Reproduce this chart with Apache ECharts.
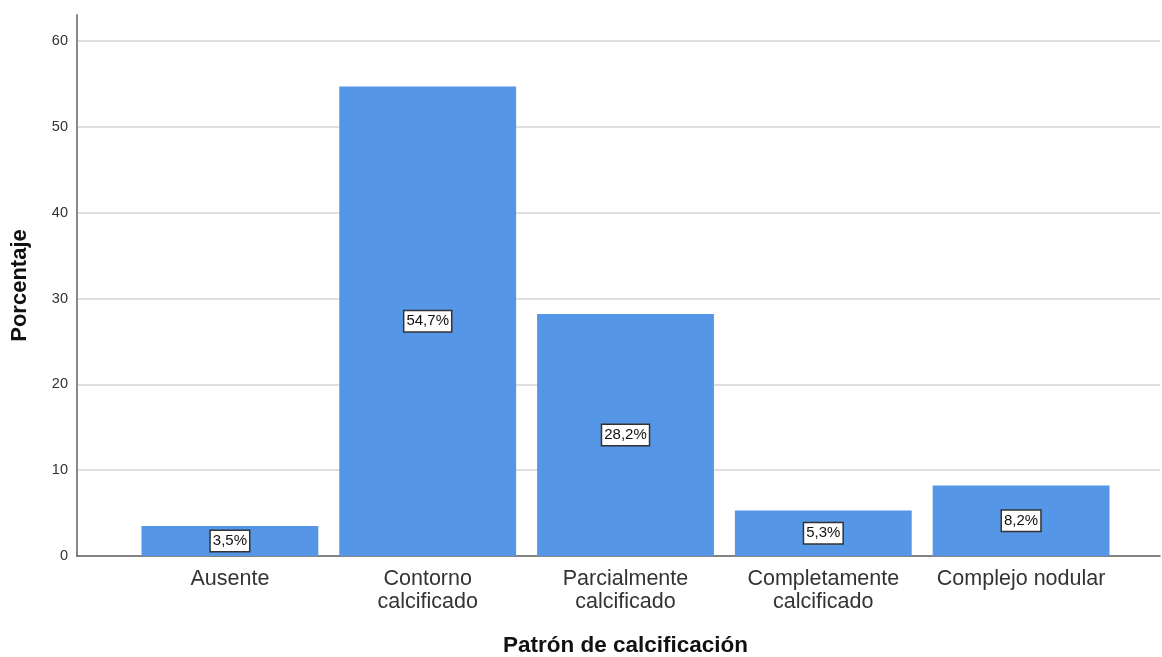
<!DOCTYPE html>
<html>
<head>
<meta charset="utf-8">
<script src="https://cdn.jsdelivr.net/npm/echarts@6/dist/echarts.min.js"></script>
<style>
  html, body { margin: 0; padding: 0; background: #fff; }
  #chart { width: 1162px; height: 657px; }
</style>
</head>
<body>
<div id="chart"></div>
<script>
// Calcification pattern categories and their percentages
const categories = ['Ausente', 'Contorno\ncalcificado', 'Parcialmente\ncalcificado', 'Completamente\ncalcificado', 'Complejo nodular'];
const percentages = [3.5, 54.7, 28.2, 5.3, 8.2];
const yTicks = { min: 0, max: 60, interval: 10 };
const xTitle = 'Patrón de calcificación';
const yTitle = 'Porcentaje';

const FONT = '"Liberation Sans", Arial, sans-serif';
const chart = echarts.init(document.getElementById('chart'), null, { renderer: 'canvas' });

chart.setOption({
  animation: false,
  textStyle: { fontFamily: FONT },
  grid: [
    // frame grid: gridlines, tick labels, bottom axis line
    { left: 77, right: 2, top: 41, bottom: 101, outerBoundsMode: 'none', containLabel: false },
    // bar grid: inset category band
    { left: 131, right: 42, top: 41, bottom: 101, outerBoundsMode: 'none', containLabel: false },
    // tall vertical axis line carrying the y title
    { left: 77, width: 10, top: 15, bottom: 101, outerBoundsMode: 'none', containLabel: false }
  ],
  xAxis: [
    {
      gridIndex: 0, type: 'value', min: 0, max: 1,
      axisLine: { show: true, onZero: false, lineStyle: { color: '#666', width: 1.5 } },
      axisTick: { show: false }, axisLabel: { show: false }, splitLine: { show: false }
    },
    {
      gridIndex: 1, type: 'category', data: categories,
      axisLine: { show: false }, axisTick: { show: false },
      axisLabel: { color: '#333', fontSize: 21.5, lineHeight: 23, margin: 12, fontFamily: FONT, interval: 0 },
      name: xTitle, nameLocation: 'middle', nameGap: 78,
      nameTextStyle: { fontSize: 22.5, fontWeight: 'bold', color: '#111', fontFamily: FONT }
    },
    {
      gridIndex: 2, type: 'value', show: false
    }
  ],
  yAxis: [
    {
      gridIndex: 0, type: 'value', min: yTicks.min, max: yTicks.max, interval: yTicks.interval,
      axisLine: { show: false }, axisTick: { show: false },
      axisLabel: { color: '#333', fontSize: 14.5, margin: 9, fontFamily: FONT },
      splitLine: { show: true, lineStyle: { color: '#d4d4d4', width: 1.5 } }
    },
    {
      gridIndex: 1, type: 'value', min: yTicks.min, max: yTicks.max, show: false
    },
    {
      gridIndex: 2, type: 'value', min: 0, max: 1,
      axisLine: { show: true, lineStyle: { color: '#888', width: 2 } },
      axisTick: { show: false }, axisLabel: { show: false }, splitLine: { show: false },
      name: yTitle, nameLocation: 'middle', nameGap: 46,
      nameTextStyle: { fontSize: 22, fontWeight: 'bold', color: '#111', fontFamily: FONT }
    }
  ],
  series: [
    {
      type: 'bar',
      xAxisIndex: 1, yAxisIndex: 1,
      data: percentages,
      barCategoryGap: '10.6%',
      itemStyle: { color: '#5596E6' },
      label: {
        show: true,
        position: 'inside',
        formatter: p => p.value.toFixed(1).replace('.', ',') + '%',
        color: '#111',
        fontSize: 15,
        fontFamily: FONT,
        backgroundColor: '#fff',
        borderColor: '#333',
        borderWidth: 1.5,
        padding: [3, 2, 2, 2]
      }
    }
  ]
});
</script>
</body>
</html>
